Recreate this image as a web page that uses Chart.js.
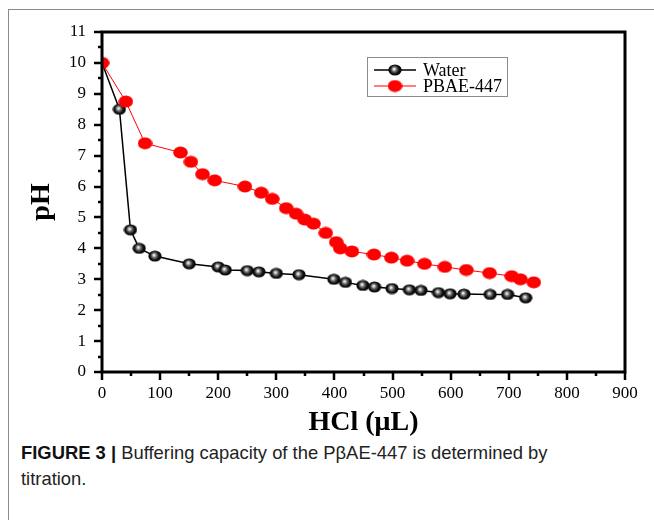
<!DOCTYPE html>
<html>
<head>
<meta charset="utf-8">
<script src="https://cdn.jsdelivr.net/npm/chart.js@4/dist/chart.umd.min.js"></script>
<style>
  body { margin: 0; background: #fff; }
  #wrap { position: relative; width: 654px; height: 520px; overflow: hidden; }
  #frame { position: absolute; left: 8px; top: 9px; width: 660px; height: 540px;
           border-top: 1px solid #8a8a8a; border-left: 1px solid #8a8a8a; }
  #chart { position: absolute; left: 0; top: 0; }
  #caption { position: absolute; left: 21px; top: 440px; width: 630px;
             font-family: "Liberation Sans Narrow", "Liberation Sans", Arial, sans-serif;
             font-size: 18.4px; line-height: 26px; color: #222; }
  #caption b { color: #111; }
</style>
</head>
<body>
<div id="wrap">
  <div id="frame"></div>
  <canvas id="chart" width="654" height="440"></canvas>
  <div id="caption"><b>FIGURE 3 |</b> Buffering capacity of the PβAE-447 is determined by<br>titration.</div>
</div>
<script>
// HCl added (µL) and measured pH
var waterX = [0, 30, 49, 64, 91, 150, 200, 212, 250, 270, 300, 339, 399, 419, 449, 469, 499, 529, 549, 579, 599, 623, 668, 698, 729];
var waterY = [10, 8.5, 4.6, 4.0, 3.75, 3.5, 3.4, 3.3, 3.28, 3.24, 3.19, 3.15, 3.0, 2.9, 2.8, 2.75, 2.7, 2.66, 2.64, 2.57, 2.53, 2.52, 2.51, 2.51, 2.4];
var pbaeX = [0, 41, 74, 135, 153, 173, 194, 246, 274, 293, 317, 334, 349, 364, 385, 403, 410, 430, 468, 498, 525, 555, 590, 627, 667, 705, 720, 743];
var pbaeY = [10, 8.75, 7.4, 7.1, 6.8, 6.4, 6.2, 6.0, 5.8, 5.6, 5.3, 5.12, 4.93, 4.8, 4.5, 4.2, 4.0, 3.9, 3.8, 3.7, 3.6, 3.5, 3.4, 3.3, 3.2, 3.1, 3.0, 2.9];
var seriesNames = ['Water', 'PBAE-447'];
var xTicks = [0, 100, 200, 300, 400, 500, 600, 700, 800, 900];
var yTicks = [0, 1, 2, 3, 4, 5, 6, 7, 8, 9, 10, 11];

function pts(xs, ys) {
  return xs.map(function (x, i) { return { x: x, y: ys[i] }; });
}

// ball-like marker for the water series
function makeBall() {
  var c = document.createElement('canvas');
  c.width = 14; c.height = 12;
  var g = c.getContext('2d');
  var grad = g.createRadialGradient(6, 5, 0.5, 7, 6, 7);
  grad.addColorStop(0, '#f2f2f2');
  grad.addColorStop(0.3, '#6a6a6a');
  grad.addColorStop(0.6, '#111');
  grad.addColorStop(1, '#000');
  g.fillStyle = grad;
  g.beginPath();
  g.ellipse(7, 6, 6.6, 5.6, 0, 0, Math.PI * 2);
  g.fill();
  return c;
}
function makeDot() {
  var c = document.createElement('canvas');
  c.width = 15; c.height = 13;
  var g = c.getContext('2d');
  g.fillStyle = '#ff0000';
  g.beginPath();
  g.ellipse(7.5, 6.5, 7.3, 6, 0, 0, Math.PI * 2);
  g.fill();
  return c;
}
var ball = makeBall();
var dot = makeDot();

var framePlugin = {
  id: 'frame',
  afterDraw: function (chart) {
    var ctx = chart.ctx;
    var a = chart.chartArea;
    var xs = chart.scales.x, ys = chart.scales.y;
    ctx.save();
    ctx.strokeStyle = '#000';
    ctx.lineWidth = 3;
    ctx.strokeRect(a.left, a.top, a.right - a.left, a.bottom - a.top);
    ctx.lineWidth = 2.5;
    ctx.beginPath();
    for (var v = 0; v <= 11; v += 0.5) {
      var py = Math.round(ys.getPixelForValue(v));
      var len = (v % 1 === 0) ? 8 : 4;
      ctx.moveTo(a.left, py);
      ctx.lineTo(a.left - len, py);
    }
    for (var u = 0; u <= 900; u += 50) {
      var px = Math.round(xs.getPixelForValue(u));
      var l2 = (u % 100 === 0) ? 8 : 4;
      ctx.moveTo(px, a.bottom);
      ctx.lineTo(px, a.bottom + l2);
    }
    ctx.stroke();

    // legend
    ctx.lineWidth = 1;
    ctx.strokeStyle = '#8c8c8c';
    ctx.strokeRect(367.5, 57.5, 140, 39);
    var colors = ['#000', '#ff0000'];
    var marks = [ball, dot];
    ctx.font = '18px "Liberation Serif", "Times New Roman", serif';
    ctx.textBaseline = 'middle';
    ctx.fillStyle = '#000';
    for (var i = 0; i < 2; i++) {
      var yy = 70 + i * 16;
      ctx.strokeStyle = colors[i];
      ctx.lineWidth = i === 0 ? 1.5 : 1;
      ctx.beginPath();
      ctx.moveTo(374, yy);
      ctx.lineTo(416, yy);
      ctx.stroke();
      ctx.drawImage(marks[i], 395 - marks[i].width / 2, yy - marks[i].height / 2);
      ctx.fillText(seriesNames[i], 423, yy + 1);
    }
    ctx.restore();
  }
};

new Chart(document.getElementById('chart'), {
  type: 'scatter',
  data: {
    datasets: [
      {
        label: seriesNames[0],
        data: pts(waterX, waterY),
        showLine: true,
        borderColor: '#000',
        borderWidth: 1.5,
        pointStyle: ball,
        order: 2
      },
      {
        label: seriesNames[1],
        data: pts(pbaeX, pbaeY),
        showLine: true,
        borderColor: '#ff0000',
        borderWidth: 1,
        pointStyle: dot,
        order: 1
      }
    ]
  },
  options: {
    responsive: false,
    animation: false,
    layout: { padding: { left: 0, top: 32, right: 29, bottom: 0 } },
    plugins: { legend: { display: false }, tooltip: { enabled: false } },
    scales: {
      x: {
        type: 'linear',
        min: 0, max: 900,
        afterBuildTicks: function (s) { s.ticks = xTicks.map(function (v) { return { value: v }; }); },
        afterFit: function (s) { s.height = 68; },
        grid: { display: false, drawTicks: false },
        border: { display: false },
        ticks: { padding: 11, color: '#000', font: { family: '"Liberation Serif", serif', size: 17 } },
        title: {
          display: true, text: 'HCl (μL)', color: '#000', padding: { top: 0, bottom: 0 },
          font: { family: '"Liberation Serif", serif', size: 28, weight: 'bold' }
        }
      },
      y: {
        type: 'linear',
        min: 0, max: 11,
        afterBuildTicks: function (s) { s.ticks = yTicks.map(function (v) { return { value: v }; }); },
        afterFit: function (s) { s.width = 102; },
        grid: { display: false, drawTicks: false },
        border: { display: false },
        ticks: { padding: 16, color: '#000', font: { family: '"Liberation Serif", serif', size: 17 } },
        title: {
          display: true, text: 'pH', color: '#000', padding: { top: 25, bottom: 0 },
          font: { family: '"Liberation Serif", serif', size: 28, weight: 'bold' }
        }
      }
    }
  },
  plugins: [framePlugin]
});
</script>
</body>
</html>
